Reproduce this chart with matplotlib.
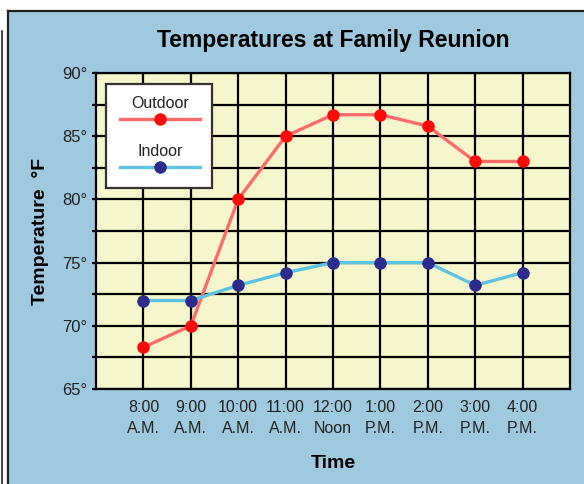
import matplotlib
matplotlib.use("Agg")
from matplotlib import pyplot as plt
from matplotlib.patches import Rectangle
from matplotlib.lines import Line2D

times = ["8:00\nA.M.", "9:00\nA.M.", "10:00\nA.M.", "11:00\nA.M.", "12:00\nNoon",
         "1:00\nP.M.", "2:00\nP.M.", "3:00\nP.M.", "4:00\nP.M."]
outdoor = [68.3, 70, 80, 85, 86.7, 86.7, 85.8, 83, 83]
indoor = [72, 72, 73.2, 74.2, 75, 75, 75, 73.2, 74.2]
y_ticks = [65, 70, 75, 80, 85, 90]

BLUE = "#9ec9df"
YELLOW = "#f5f6cc"
OUT_LINE = "#ff6b6b"
OUT_DOT = "#ff0a0a"
IN_LINE = "#5cc3e3"
IN_DOT = "#2c2c8c"

plt.rcParams['font.family'] = ['Liberation Sans', 'DejaVu Sans']

fig = plt.figure(figsize=(5.84, 4.84), dpi=100)
fig.patch.set_facecolor("white")

W, H = 584, 484
# blue panel + outer frame lines
fig.patches.append(Rectangle((8 / W, 0), 1, 1 - 11 / H, transform=fig.transFigure,
                             facecolor=BLUE, edgecolor="none", zorder=-5))
fig.add_artist(Line2D([8 / W, 1], [1 - 11 / H, 1 - 11 / H], transform=fig.transFigure,
                      color="#222222", lw=1.6, zorder=-4))
fig.add_artist(Line2D([8 / W, 8 / W], [0, 1 - 11 / H], transform=fig.transFigure,
                      color="#222222", lw=1.6, zorder=-4))
fig.add_artist(Line2D([1.5 / W, 1.5 / W], [0, 1 - 31 / H], transform=fig.transFigure,
                      color="#222222", lw=1.2, zorder=-4))

ax = fig.add_axes([96 / W, 1 - 389 / H, 474 / W, 316 / H])
ax.set_facecolor(YELLOW)

x = list(range(len(times)))
ax.plot(x, outdoor, color=OUT_LINE, lw=2.4, zorder=3)
ax.plot(x, outdoor, "o", color=OUT_DOT, ms=8, zorder=4)
ax.plot(x, indoor, color=IN_LINE, lw=2.4, zorder=3)
ax.plot(x, indoor, "o", color=IN_DOT, ms=8, zorder=4)

ax.set_xlim(-1, len(times))
ax.set_ylim(65, 90)
ax.set_xticks(x)
ax.set_xticklabels(times, fontsize=11.5, color="#222222", linespacing=1.45)
ax.set_yticks(y_ticks)
ax.set_yticklabels([f"{v}\u00b0" for v in y_ticks], fontsize=12, color="#222222")
ax.set_yticks([v + 2.5 for v in y_ticks[:-1]], minor=True)
ax.tick_params(axis="x", length=0, pad=8)
ax.tick_params(axis="y", which="both", length=3, width=1.6, pad=3)

ax.grid(True, which="both", color="black", lw=1.6, zorder=1)
ax.set_axisbelow(True)
for s in ax.spines.values():
    s.set_color("black")
    s.set_linewidth(1.6)

ax.set_title("Temperatures at Family Reunion", fontsize=16.5, fontweight="bold", pad=19)
ax.set_xlabel("Time", fontsize=14, fontweight="bold", labelpad=14)
ax.set_ylabel("Temperature  \u00b0F", fontsize=14, fontweight="bold", labelpad=10)

# legend box (label above each line sample)
ax.add_patch(Rectangle((0.021, 0.636), 0.224, 0.329, transform=ax.transAxes,
                       facecolor="white", edgecolor="#333333", lw=1.6, zorder=5))
for label, ty, ly, lc, dc in [("Outdoor", 0.902, 0.854, OUT_LINE, OUT_DOT),
                              ("Indoor", 0.753, 0.703, IN_LINE, IN_DOT)]:
    ax.text(0.135, ty, label, transform=ax.transAxes, ha="center", va="center",
            fontsize=11.5, color="#222222", zorder=6)
    ax.add_line(Line2D([0.051, 0.219], [ly, ly], transform=ax.transAxes,
                       color=lc, lw=2.4, zorder=6))
    ax.add_line(Line2D([0.135], [ly], transform=ax.transAxes, marker="o",
                       color=dc, ms=8, zorder=7))

fig.savefig("out.png", dpi=100, facecolor=fig.get_facecolor())
